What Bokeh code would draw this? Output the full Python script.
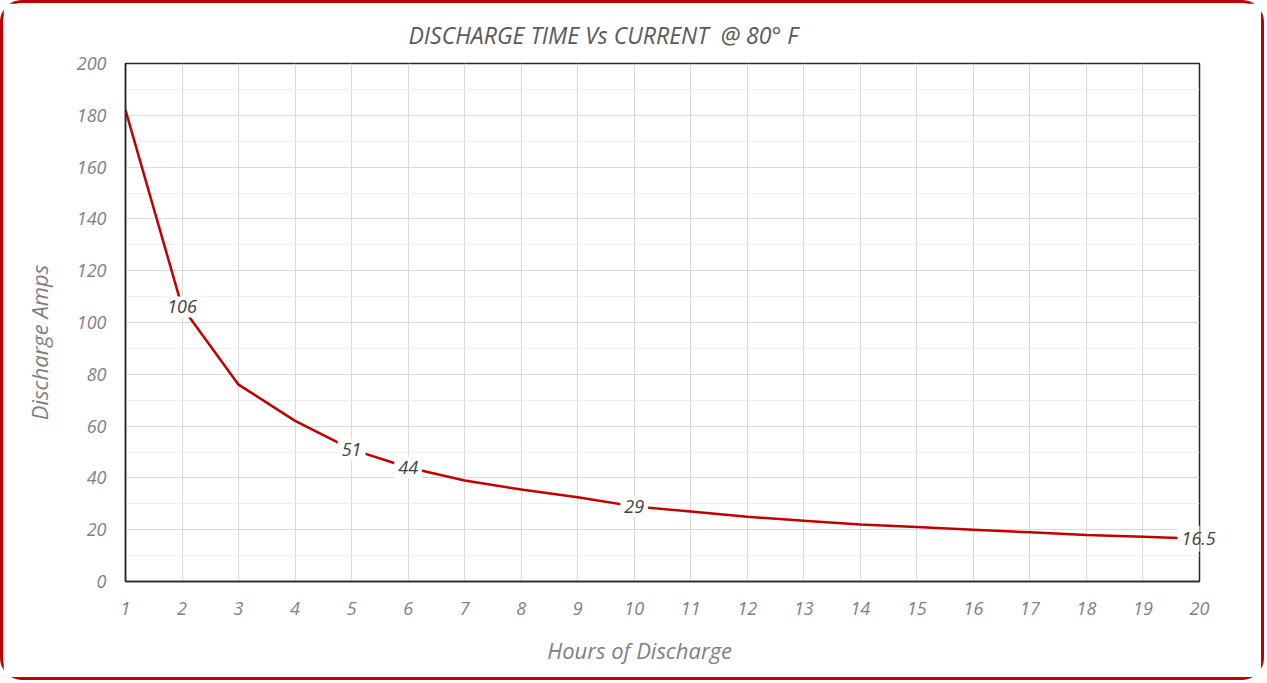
from bokeh.plotting import figure
from bokeh.models import ColumnDataSource, Label, Range1d, FixedTicker, LinearAxis
from bokeh.embed import file_html
from bokeh.resources import INLINE

hours = [1, 2, 3, 4, 5, 6, 7, 8, 9, 10, 11, 12, 13, 14, 15, 16, 17, 18, 19, 20]
amps = [182, 106, 76, 62, 51, 44, 39, 35.5, 32.5, 29, 27, 25, 23.5, 22, 21, 20, 19, 18, 17.3, 16.5]

label_hours = [2, 5, 6, 10, 20]
label_amps = [106, 51, 44, 29, 16.5]
label_text = ["106", "51", "44", "29", "16.5"]

x_ticks = list(range(1, 21))
y_ticks = list(range(0, 201, 20))
y_minor = list(range(10, 200, 20))

FONT = "Open Sans"
NB = "\u00a0"

p = figure(width=1264, height=680, output_backend="svg", toolbar_location=None,
           x_range=Range1d(1, 20), y_range=Range1d(0, 200))
p.styles = {"border": "3px solid #c00000", "border-radius": "22px", "box-sizing": "border-box"}
p.min_border_left = 122
p.min_border_right = 68
p.min_border_top = 60
p.min_border_bottom = 102

p.title.text = "DISCHARGE TIME Vs CURRENT" + NB + " @ 80° F"
p.title.text_font = FONT
p.title.text_font_style = "italic"
p.title.text_font_size = "23px"
p.title.text_color = "#595959"
p.title.align = "left"
p.title.offset = 283
p.title.standoff = 25

p.outline_line_color = "#262626"
p.outline_line_width = 1.5

for ax in (p.xaxis[0], p.yaxis[0]):
    ax.axis_line_color = "#262626"
    ax.axis_line_width = 1.5
    ax.major_tick_line_color = None
    ax.minor_tick_line_color = None
    ax.major_tick_out = 0
    ax.major_tick_in = 0
    ax.minor_tick_out = 0
    ax.minor_tick_in = 0
    ax.major_label_text_font = FONT
    ax.major_label_text_font_style = "italic"
    ax.major_label_text_font_size = "18px"
    ax.major_label_text_color = "#7f7f7f"
    ax.axis_label_text_font = FONT
    ax.axis_label_text_font_style = "italic"
    ax.axis_label_text_font_size = "22px"
    ax.axis_label_text_color = "#7f7f7f"

p.xaxis[0].ticker = FixedTicker(ticks=x_ticks)
p.yaxis[0].ticker = FixedTicker(ticks=y_ticks, minor_ticks=y_minor)
p.xaxis[0].axis_label = "Hours of Discharge" + NB * 8
p.yaxis[0].axis_label = "Discharge Amps" + NB * 7
p.xaxis[0].major_label_standoff = 20
p.yaxis[0].major_label_standoff = 19
p.xaxis[0].axis_label_standoff = 17
p.yaxis[0].axis_label_standoff = 20

p.xgrid.grid_line_color = "#d9d9d9"
p.ygrid.grid_line_color = "#d9d9d9"
p.ygrid.minor_grid_line_color = "#efefef"

src = ColumnDataSource(dict(x=hours, y=amps))
p.line("x", "y", source=src, line_color="#c00000", line_width=2.5)

# labels inside the frame
for lx, ly, lt in zip(label_hours[:-1], label_amps[:-1], label_text[:-1]):
    p.add_layout(Label(x=lx, y=ly, text=lt, text_align="center",
                       text_baseline="middle", text_font=FONT, text_font_style="italic",
                       text_font_size="18px", text_color="#404040",
                       background_fill_color="white", padding=4))

# last label sits on the frame edge: white box inside the frame + text via a right axis
p.rect(x=[label_hours[-1]], y=[label_amps[-1]], width=44, height=26,
       width_units="screen", height_units="screen", fill_color="white", line_color=None)
rax = LinearAxis(ticker=FixedTicker(ticks=[label_amps[-1]]),
                 major_label_overrides={label_amps[-1]: label_text[-1]})
rax.axis_line_color = None
rax.major_tick_line_color = None
rax.minor_tick_line_color = None
rax.major_tick_out = 0
rax.major_tick_in = 0
rax.minor_tick_out = 0
rax.minor_tick_in = 0
rax.major_label_standoff = -18
rax.major_label_text_font = FONT
rax.major_label_text_font_style = "italic"
rax.major_label_text_font_size = "18px"
rax.major_label_text_color = "#404040"
p.add_layout(rax, "right")

open("out.html", "w").write(file_html(p, INLINE))
